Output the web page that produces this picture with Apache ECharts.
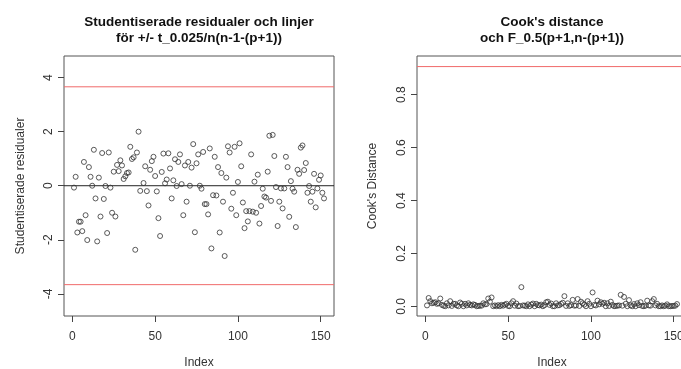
<!DOCTYPE html>
<html>
<head>
<meta charset="utf-8">
<script src="https://cdn.jsdelivr.net/npm/echarts@6/dist/echarts.min.js"></script>
<style>
  html, body { margin: 0; padding: 0; background: #fff; }
  #chart { width: 681px; height: 369px; }
</style>
</head>
<body>
<div id="chart"></div>
<script>
// studentiserade residualer, [index, värde]
const residIndex = [
  1, 2, 3, 4, 5, 6, 7, 8, 9, 10, 11, 12, 13, 14, 15, 16, 17, 18, 19, 20,
  21, 22, 23, 24, 25, 26, 27, 28, 29, 30, 31, 32, 33, 34, 35, 36, 37, 38, 39, 40,
  41, 43, 44, 45, 46, 47, 48, 49, 50, 51, 52, 53, 54, 55, 56, 57, 58, 59, 60,
  61, 62, 63, 64, 65, 66, 67, 68, 69, 70, 71, 72, 73, 74, 75, 76, 77, 78, 79, 80,
  81, 82, 83, 84, 85, 86, 87, 88, 89, 90, 91, 92, 93, 94, 95, 96, 97, 98, 99, 100,
  101, 102, 103, 104, 105, 106, 107, 108, 109, 110, 111, 112, 113, 114, 115, 116, 117, 118, 119, 120,
  121, 122, 123, 124, 125, 126, 127, 128, 129, 130, 131, 132, 133, 134, 135, 136, 137, 138, 139, 140,
  141, 142, 143, 144, 145, 146, 147, 148, 149, 150, 151, 152
];
const residValue = [
  -0.07, 0.33, -1.73, -1.33, -1.33, -1.68, 0.88, -1.09, -2.01, 0.69, 0.33, 0.00, 1.33, -0.47, -2.06, 0.30, -1.14, 1.21, -0.49, -0.01,
  -1.75, 1.23, -0.07, -1.00, 0.52, -1.14, 0.77, 0.54, 0.94, 0.75, 0.25, 0.35, 0.47, 0.49, 1.44, 0.99, 1.05, -2.37, 1.23, 2.00,
  -0.19, 0.10, 0.72, -0.20, -0.73, 0.59, 0.91, 1.07, 0.36, -0.21, -1.20, -1.86, 0.51, 1.19, 0.09, 0.23, 1.20, 0.64, -0.47,
  0.20, 0.98, -0.01, 0.88, 1.16, 0.06, -1.09, 0.75, -0.59, 0.88, 0.00, 0.67, 1.54, -1.72, 0.83, 1.16, 0.00, -0.11, 1.25, -0.68,
  -0.68, -1.06, 1.38, -2.32, -0.35, 1.07, -0.36, 0.69, -1.73, 0.47, -0.59, -2.60, 0.30, 1.46, 1.23, -0.85, -0.26, 1.44, -1.09, 0.14,
  1.57, 0.72, -0.62, -1.57, -0.94, -1.32, -0.94, 1.16, -0.96, 0.15, -1.00, 0.41, -1.40, -0.75, -0.11, -0.40, -0.44, 0.52, 1.85, -0.56,
  1.88, 1.10, -0.05, -1.49, -0.59, -0.10, -0.84, -0.10, 1.07, 0.69, -1.15, 0.17, -0.11, -0.22, -1.53, 0.59, 0.44, 1.41, 1.49, 0.58,
  0.84, -0.26, -0.01, -0.59, -0.22, 0.44, -0.80, -0.10, 0.22, 0.38, -0.26, -0.47
];

// Cook's distance för index 1..152
const cookValue = [
  0.004, 0.032, 0.020, 0.012, 0.014, 0.016, 0.010, 0.012, 0.030, 0.006,
  0.003, 0.001, 0.012, 0.004, 0.020, 0.002, 0.010, 0.010, 0.004, 0.001,
  0.015, 0.010, 0.001, 0.010, 0.004, 0.012, 0.006, 0.004, 0.008, 0.006,
  0.001, 0.002, 0.003, 0.003, 0.012, 0.008, 0.009, 0.030, 0.018, 0.034,
  0.001, 0.004, 0.001, 0.005, 0.001, 0.006, 0.003, 0.007, 0.010, 0.002,
  0.001, 0.012, 0.020, 0.003, 0.011, 0.001, 0.002, 0.073, 0.004, 0.003,
  0.001, 0.008, 0.001, 0.007, 0.011, 0.001, 0.010, 0.005, 0.004, 0.007,
  0.001, 0.005, 0.016, 0.018, 0.006, 0.011, 0.001, 0.001, 0.012, 0.004,
  0.005, 0.010, 0.014, 0.039, 0.002, 0.012, 0.002, 0.005, 0.025, 0.003,
  0.004, 0.028, 0.002, 0.018, 0.012, 0.007, 0.001, 0.020, 0.010, 0.001,
  0.053, 0.006, 0.004, 0.022, 0.008, 0.016, 0.010, 0.014, 0.001, 0.012,
  0.002, 0.018, 0.006, 0.001, 0.002, 0.003, 0.004, 0.044, 0.003, 0.036,
  0.010, 0.001, 0.024, 0.004, 0.001, 0.009, 0.001, 0.012, 0.005, 0.016,
  0.002, 0.001, 0.003, 0.022, 0.004, 0.003, 0.020, 0.028, 0.004, 0.010,
  0.001, 0.001, 0.004, 0.001, 0.003, 0.008, 0.001, 0.001, 0.002, 0.002,
  0.003, 0.009
];

const tLimit = 3.66;     // t_0.025/n(n-1-(p+1))
const fLimit = 0.906;    // F_0.5(p+1, n-(p+1))
const xMin = -5.04;
const xMax = 158.04;
const xTicks = [0, 50, 100, 150];
const residTicks = [-4, -2, 0, 2, 4];
const cookTicks = [0, 0.2, 0.4, 0.6, 0.8];

const font = "'Liberation Sans', Arial, sans-serif";
const textCol = "#333";
const redCol = "#f06a6a";

const residData = residIndex.map((x, i) => [x, residValue[i]]);
const cookData = cookValue.map((v, i) => [i + 1, v]);

function xAxis(gridIndex) {
  return {
    type: "value",
    gridIndex: gridIndex,
    position: "bottom",
    min: xMin,
    max: xMax,
    name: "Index",
    nameLocation: "middle",
    nameGap: 41,
    nameTextStyle: { color: textCol, fontSize: 12, fontFamily: font },
    axisLine: { show: false, onZero: false },
    splitLine: { show: false },
    axisTick: { show: true, inside: false, length: 6, customValues: xTicks, lineStyle: { color: "#444" } },
    axisLabel: { customValues: xTicks, color: textCol, fontSize: 12, fontFamily: font, margin: 15 },
  };
}

function yAxis(gridIndex, min, max, ticks, name, fmt, gap) {
  return {
    type: "value",
    gridIndex: gridIndex,
    position: "left",
    min: min,
    max: max,
    name: name,
    nameLocation: "middle",
    nameGap: gap,
    nameTextStyle: { color: textCol, fontSize: 12, fontFamily: font },
    axisLine: { show: false, onZero: false },
    splitLine: { show: false },
    axisTick: { show: true, inside: false, length: 6, customValues: ticks, lineStyle: { color: "#444" } },
    axisLabel: {
      customValues: ticks,
      rotate: 90,
      color: textCol,
      fontSize: 12,
      fontFamily: font,
      margin: 9,
      formatter: fmt,
    },
  };
}

function hLine(gridIndex, value, color) {
  return {
    type: "line",
    xAxisIndex: gridIndex,
    yAxisIndex: gridIndex,
    silent: true,
    symbol: "none",
    z: 1,
    lineStyle: { color: color, width: 1, type: "solid" },
    data: [[xMin, value], [xMax, value]],
  };
}

const circle = {
  color: "transparent",
  borderColor: "#333",
  borderWidth: 1,
};

const option = {
  animation: false,
  backgroundColor: "#fff",
  graphic: [
    {
      type: "text", x: 199, y: 14,
      style: {
        text: "Studentiserade residualer och linjer\nför +/- t_0.025/n(n-1-(p+1))",
        textAlign: "center", font: "bold 13.5px " + font, fill: "#111", lineHeight: 16,
      },
    },
    {
      type: "text", x: 552, y: 14,
      style: {
        text: "Cook's distance\noch F_0.5(p+1,n-(p+1))",
        textAlign: "center", font: "bold 13.5px " + font, fill: "#111", lineHeight: 16,
      },
    },
  ],
  grid: [
    { left: 64, top: 56, width: 270, height: 260, outerBoundsMode: "none", containLabel: false,
      show: true, borderColor: "#555", borderWidth: 1, backgroundColor: "transparent" },
    { left: 417, top: 56, width: 270, height: 260, outerBoundsMode: "none", containLabel: false,
      show: true, borderColor: "#555", borderWidth: 1, backgroundColor: "transparent" },
  ],
  xAxis: [xAxis(0), xAxis(1)],
  yAxis: [
    yAxis(0, -4.82, 4.8, residTicks, "Studentiserade residualer", (v) => String(v), 37),
    yAxis(1, -0.036, 0.946, cookTicks, "Cook's Distance", (v) => v.toFixed(1), 38),
  ],
  series: [
    hLine(0, tLimit, redCol),
    hLine(0, -tLimit, redCol),
    hLine(0, 0, "#222"),
    hLine(1, fLimit, redCol),
    {
      type: "scatter",
      xAxisIndex: 0,
      yAxisIndex: 0,
      symbol: "circle",
      symbolSize: 5,
      z: 2,
      itemStyle: circle,
      data: residData,
    },
    {
      type: "scatter",
      xAxisIndex: 1,
      yAxisIndex: 1,
      symbol: "circle",
      symbolSize: 5,
      z: 2,
      itemStyle: circle,
      data: cookData,
    },
  ],
};

const myChart = echarts.init(document.getElementById("chart"), null, { renderer: "canvas" });
myChart.setOption(option);
</script>
</body>
</html>
